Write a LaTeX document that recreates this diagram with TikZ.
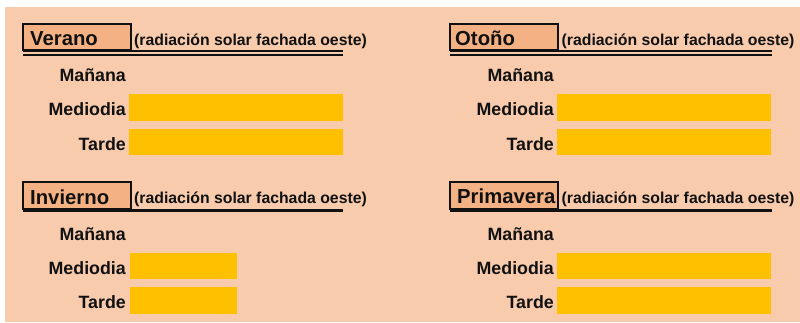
\documentclass[tikz,border=0pt]{standalone}
\usepackage{fontspec}
\setmainfont{Liberation Sans}
\definecolor{peach}{HTML}{F8CBAD}
\definecolor{tbox}{HTML}{F4B183}
\definecolor{bar}{HTML}{FFC000}
\definecolor{ink}{HTML}{111111}
\tikzset{
  titlebox/.style={fill=tbox,draw=ink,line width=2pt},
  titletext/.style={anchor=base west,inner sep=0pt,text=ink,font=\bfseries\fontsize{20.3}{24}\selectfont},
  subtext/.style={anchor=base west,inner sep=0pt,text=ink,font=\bfseries\fontsize{15.8}{18}\selectfont},
  rowlabel/.style={anchor=base east,inner sep=0pt,text=ink,font=\bfseries\fontsize{17.8}{20}\selectfont},
  barbox/.style={fill=bar,draw=none,inner sep=0pt,anchor=north west},
  uline/.style={draw=ink,line width=2pt},
  thickuline/.style={draw=ink,line width=3pt}
}
\begin{document}
\begin{tikzpicture}[x=1pt,y=-1pt]
\useasboundingbox (0,0) rectangle (800,322);
\fill[white] (0,0) rectangle (800,322);
\fill[peach] (5,7) rectangle (800,322);
% ---------- Verano ----------
\path[titlebox] (23,24) rectangle (131,50);
\draw[uline] (23,51) -- (343,51);
\draw[uline] (23,55) -- (343,55);
\node[titletext] (tv) at (30,45) {Verano};
\node[subtext] (sv) at (134,45) {(radiación solar fachada oeste)};
\node[rowlabel] (v1) at (126,81) {Mañana};
\node[rowlabel] (v2) at (126,115.5) {Mediodia};
\node[rowlabel] (v3) at (126,150) {Tarde};
\node[barbox,minimum width=214pt,minimum height=27pt] (vb2) at (129,94) {};
\node[barbox,minimum width=214pt,minimum height=26pt] (vb3) at (129,129) {};
% ---------- Otoño ----------
\path[titlebox] (450,24) rectangle (558,50);
\draw[uline] (450,51) -- (772,51);
\draw[uline] (450,55) -- (772,55);
\node[titletext] (to) at (455,45) {Otoño};
\node[subtext] (so) at (561.5,45) {(radiación solar fachada oeste)};
\node[rowlabel] (o1) at (554,81) {Mañana};
\node[rowlabel] (o2) at (554,115.5) {Mediodia};
\node[rowlabel] (o3) at (554,150) {Tarde};
\node[barbox,minimum width=214pt,minimum height=27pt] (ob2) at (557,94) {};
\node[barbox,minimum width=214pt,minimum height=26pt] (ob3) at (557,129) {};
% ---------- Invierno ----------
\path[titlebox] (23,182) rectangle (131,209);
\draw[thickuline] (23,210.5) -- (343,210.5);
\node[titletext] (ti) at (30,204) {Invierno};
\node[subtext] (si) at (134,203.5) {(radiación solar fachada oeste)};
\node[rowlabel] (i1) at (126,240.5) {Mañana};
\node[rowlabel] (i2) at (126,274) {Mediodia};
\node[rowlabel] (i3) at (126,308.3) {Tarde};
\node[barbox,minimum width=107pt,minimum height=26pt] (ib2) at (130,253) {};
\node[barbox,minimum width=107pt,minimum height=27pt] (ib3) at (130,287) {};
% ---------- Primavera ----------
\path[titlebox] (450,182) rectangle (558,209);
\draw[thickuline] (450,210.5) -- (772,210.5);
\node[titletext] (tp) at (457,203.5) {Primavera};
\node[subtext] (sp) at (561.5,203.5) {(radiación solar fachada oeste)};
\node[rowlabel] (p1) at (554,240.5) {Mañana};
\node[rowlabel] (p2) at (554,274) {Mediodia};
\node[rowlabel] (p3) at (554,308.3) {Tarde};
\node[barbox,minimum width=214pt,minimum height=26pt] (pb2) at (557,253) {};
\node[barbox,minimum width=214pt,minimum height=27pt] (pb3) at (557,287) {};
\end{tikzpicture}
\end{document}
